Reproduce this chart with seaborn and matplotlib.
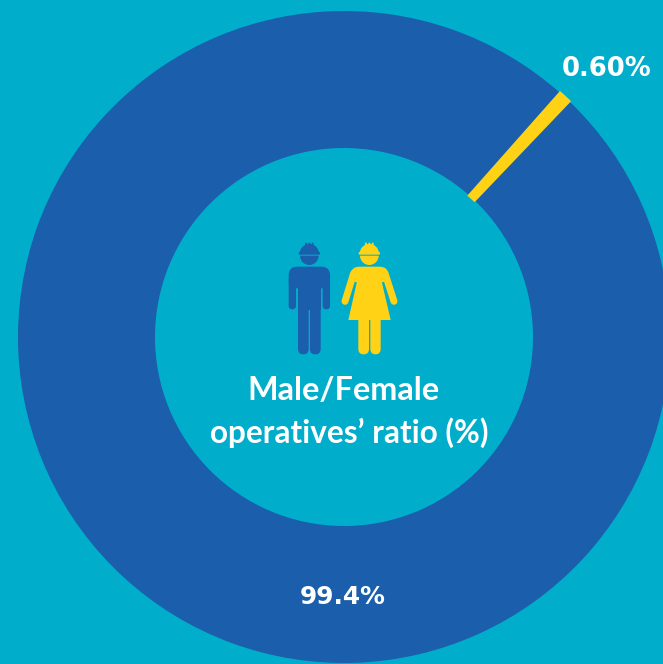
import seaborn as sns
import matplotlib.pyplot as plt
from matplotlib.patches import FancyBboxPatch, Polygon, Wedge, Rectangle

groups = ['Female', 'Male']
shares = [0.6, 99.4]
share_labels = ['0.60%', '99.4%']
title_lines = ['Male/Female', 'operatives\u2019 ratio (%)']

bg = '#00AECC'
blue = '#1B5EAB'
yellow = '#FFD215'

sns.set_theme(style='white')
plt.rcParams['font.family'] = ['Lato', 'DejaVu Sans']

W, H = 663, 664
fig = plt.figure(figsize=(W / 100, H / 100), dpi=100, facecolor=bg)
ax = fig.add_axes([0, 0, 1, 1], facecolor=bg)

# pie is laid out in pixel units, yellow slice centred at 47.4 deg
cx, cy = 344, H - 337
wedges, _ = ax.pie(shares, colors=sns.color_palette([yellow, blue]), radius=326,
                   center=(cx, cy), startangle=47.4 - shares[0] * 1.8, counterclock=True,
                   wedgeprops=dict(width=326 - 189, linewidth=0))
wedges[0].set_edgecolor(yellow)
wedges[0].set_linewidth(2)
wedges[0].set_zorder(3)
ax.set_xlim(0, W)
ax.set_ylim(0, H)
ax.axis('off')


# icons, coordinates measured on a 3x crop starting at (260, 230)
def px(x, y):
    return 260 + x / 3, H - (230 + y / 3)


def rbox(x0, y0, x1, y1, r, color):
    xa, ya = px(x0, y1)
    xb, yb = px(x1, y0)
    r = r / 3
    ax.add_patch(FancyBboxPatch((xa + r, ya + r), xb - xa - 2 * r, yb - ya - 2 * r,
                                boxstyle='round,pad=%f,rounding_size=%f' % (r, r),
                                fc=color, ec='none', zorder=5))


def head(x, color):
    c = px(x, 77)
    ax.add_patch(Wedge(c, 28 / 3, 180, 360, fc=color, ec='none', zorder=5))
    c = px(x, 71)
    ax.add_patch(Wedge(c, 29 / 3, 0, 180, fc=color, ec='none', zorder=5))
    rbox(x - 32, 66, x + 32, 74, 3, color)
    for dx in [-10, 0, 10]:
        rbox(x + dx - 3, 38, x + dx + 3, 52, 2, color)


# man
head(148, blue)
rbox(86, 140, 108, 238, 11, blue)
rbox(188, 140, 210, 238, 11, blue)
rbox(86, 110, 210, 175, 26, blue)
a = px(113, 240)
b = px(183, 130)
ax.add_patch(Rectangle(a, b[0] - a[0], b[1] - a[1], fc=blue, ec='none', zorder=5))
rbox(114, 200, 146, 373, 16, blue)
rbox(150, 200, 182, 373, 16, blue)

# woman
head(328, yellow)
dress = [(292, 150), (265, 270), (392, 270), (364, 150), (364, 125), (292, 125)]
ax.add_patch(Polygon([px(*p) for p in dress], fc=yellow, ec='none', zorder=5))
rbox(272, 110, 385, 158, 26, yellow)
arm_w = 21 / 3 * 0.72
for xs in [(281, 255), (375, 402)]:
    x1, y1 = px(xs[0], 130)
    x2, y2 = px(xs[1], 214)
    ax.plot([x1, x2], [y1, y2], color=yellow, lw=arm_w, solid_capstyle='round', zorder=5)
rbox(295, 250, 327, 373, 16, yellow)
rbox(331, 250, 362, 373, 16, yellow)

# centre text
ax.text(343, H - 390, title_lines[0], color='white', fontsize=23.3, fontweight='bold',
        ha='center', va='center', zorder=6)
ax.text(349, H - 433, title_lines[1], color='white', fontsize=22.7, fontweight='bold',
        ha='center', va='center', zorder=6)

# share labels
ax.text(607, H - 68.5, share_labels[0], color='white', fontsize=18.6, fontweight='bold',
        family=['DejaVu Sans'], ha='center', va='center', zorder=6)
ax.text(342.5, H - 597.5, share_labels[1], color='white', fontsize=17.9, fontweight='bold',
        family=['DejaVu Sans'], ha='center', va='center', zorder=6)

fig.savefig('out.png', dpi=100, facecolor=bg)
